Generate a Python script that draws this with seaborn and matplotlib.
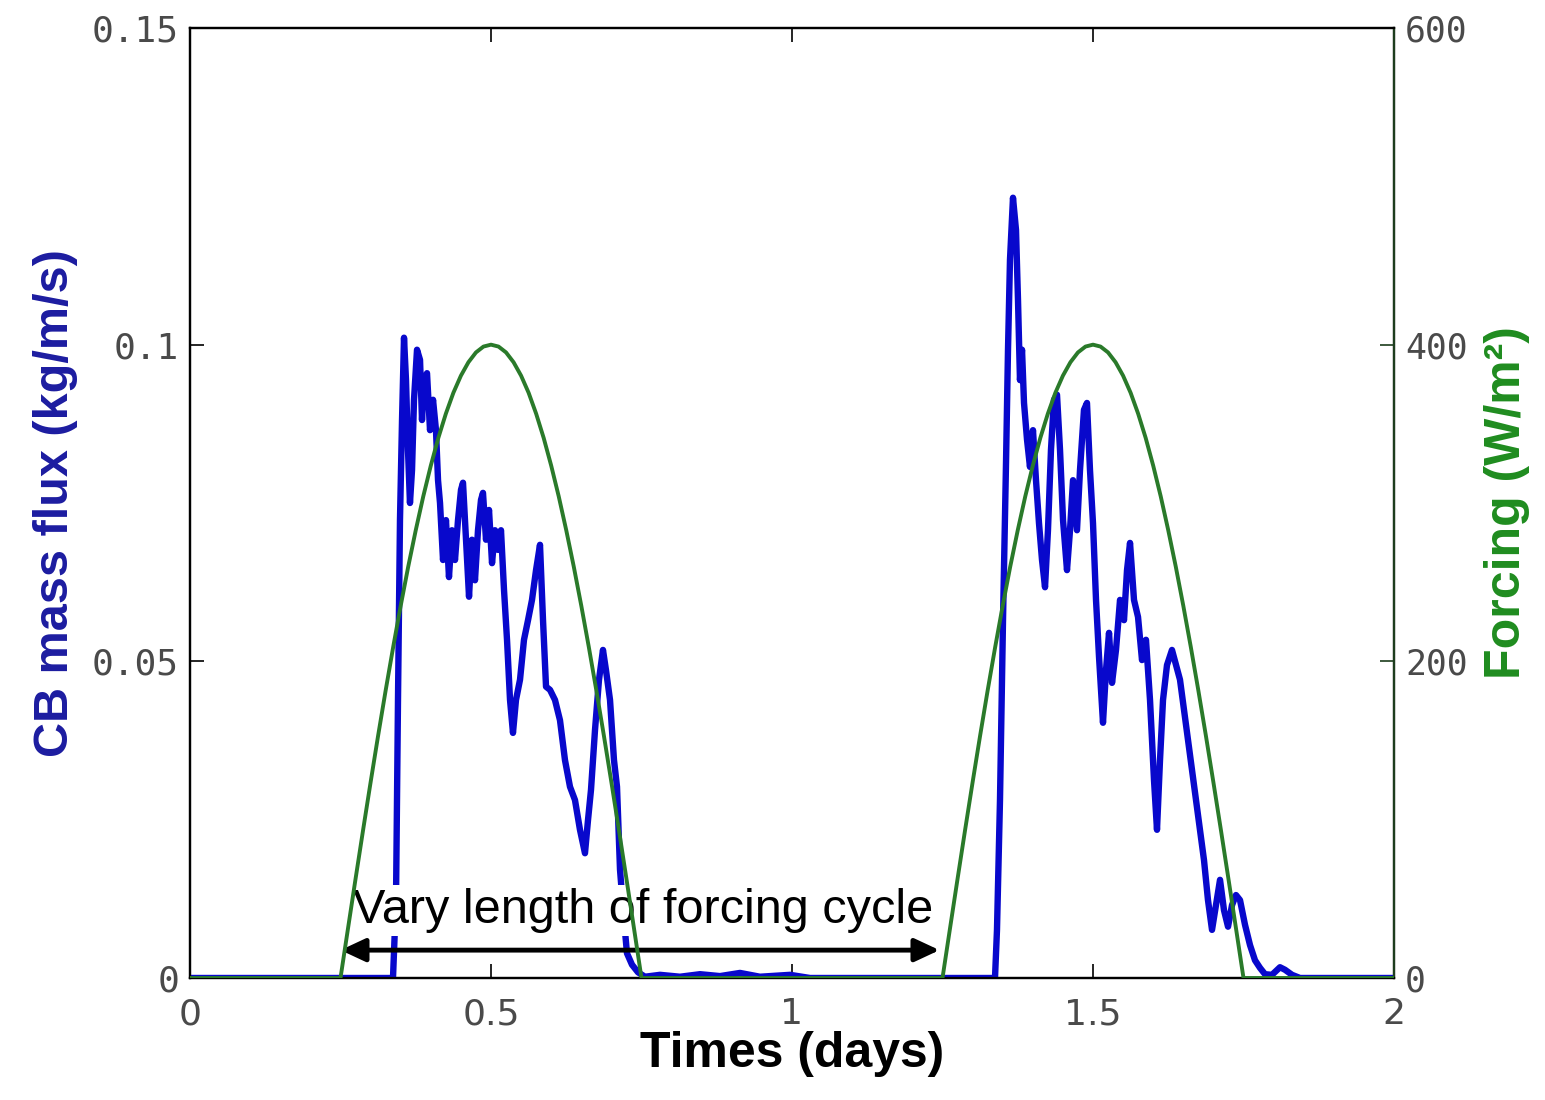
import matplotlib
matplotlib.use("Agg")
import matplotlib.pyplot as plt
import seaborn as sns
import pandas as pd
from matplotlib import font_manager

# ---------------- data ----------------
flux_time = [0.0, 0.3372, 0.3422, 0.3455, 0.3488, 0.3522, 0.3555, 0.3588, 0.3621, 0.3654,
             0.3688, 0.3721, 0.3771, 0.3821, 0.3854, 0.3887, 0.3937, 0.3987, 0.4037, 0.4086,
             0.4120, 0.4153, 0.4203, 0.4252, 0.4302, 0.4352, 0.4402, 0.4452, 0.4502, 0.4535,
             0.4585, 0.4635, 0.4684, 0.4734, 0.4784, 0.4834, 0.4867, 0.4917, 0.4967, 0.5017,
             0.5066, 0.5116, 0.5166, 0.5216, 0.5266, 0.5316, 0.5365, 0.5415, 0.5482, 0.5548,
             0.5615, 0.5681, 0.5748, 0.5814, 0.5864, 0.5914, 0.5980, 0.6063, 0.6146, 0.6229,
             0.6312, 0.6395, 0.6478, 0.6561, 0.6611, 0.6661, 0.6728, 0.6794, 0.6860, 0.6910,
             0.6977, 0.7043, 0.7093, 0.7143, 0.7209, 0.7259, 0.7342, 0.7442, 0.7558,
             0.7807, 0.8140, 0.8472, 0.8804, 0.9136, 0.9468, 0.9967, 1.0299, 1.3372,
             1.3405, 1.3455, 1.3505, 1.3555, 1.3588, 1.3621, 1.3671, 1.3721, 1.3754, 1.3787,
             1.3821, 1.3854, 1.3904, 1.3953, 1.4003, 1.4053, 1.4103, 1.4153, 1.4203, 1.4252,
             1.4302, 1.4352, 1.4402, 1.4452, 1.4502, 1.4568, 1.4618, 1.4668, 1.4734, 1.4784,
             1.4850, 1.4900, 1.4950, 1.5000, 1.5050, 1.5100, 1.5166, 1.5216, 1.5266, 1.5316,
             1.5382, 1.5449, 1.5515, 1.5565, 1.5615, 1.5681, 1.5748, 1.5814, 1.5880, 1.5947,
             1.6013, 1.6063, 1.6113, 1.6163, 1.6229, 1.6312, 1.6379, 1.6445, 1.6512, 1.6578,
             1.6645, 1.6711, 1.6777, 1.6844, 1.6910, 1.6977, 1.7043, 1.7110, 1.7176, 1.7243,
             1.7309, 1.7375, 1.7442, 1.7525, 1.7608, 1.7691, 1.7774, 1.7857, 1.7973, 1.8106,
             1.8189, 1.8306, 1.8439, 2.0]
flux_value = [0.0, 0.0, 0.0123, 0.0439, 0.0723, 0.0881, 0.1011, 0.0944, 0.0834, 0.0750,
              0.0802, 0.0913, 0.0992, 0.0976, 0.0881, 0.0944, 0.0955, 0.0865, 0.0913, 0.0865,
              0.0786, 0.0750, 0.0660, 0.0723, 0.0633, 0.0707, 0.0660, 0.0723, 0.0771, 0.0782,
              0.0692, 0.0602, 0.0692, 0.0628, 0.0707, 0.0755, 0.0766, 0.0692, 0.0739, 0.0655,
              0.0707, 0.0676, 0.0707, 0.0613, 0.0534, 0.0439, 0.0387, 0.0439, 0.0471, 0.0534,
              0.0565, 0.0597, 0.0644, 0.0684, 0.0565, 0.0460, 0.0455, 0.0439, 0.0407, 0.0344,
              0.0302, 0.0281, 0.0234, 0.0197, 0.0249, 0.0297, 0.0392, 0.0471, 0.0518, 0.0486,
              0.0439, 0.0344, 0.0302, 0.0171, 0.0092, 0.0039, 0.0021, 0.0009, 0.0002,
              0.0005, 0.0002, 0.0006, 0.0003, 0.0008, 0.0002, 0.0005, 0.0, 0.0,
              0.0076, 0.0281, 0.0565, 0.0813, 0.0992, 0.1134, 0.1232, 0.1181, 0.1071, 0.0944,
              0.0992, 0.0908, 0.0850, 0.0807, 0.0865, 0.0786, 0.0718, 0.0660, 0.0617, 0.0707,
              0.0834, 0.0913, 0.0921, 0.0834, 0.0723, 0.0644, 0.0707, 0.0786, 0.0707, 0.0802,
              0.0897, 0.0908, 0.0802, 0.0718, 0.0597, 0.0507, 0.0403, 0.0486, 0.0545, 0.0466,
              0.0518, 0.0597, 0.0565, 0.0644, 0.0687, 0.0597, 0.0570, 0.0502, 0.0534, 0.0439,
              0.0313, 0.0234, 0.0344, 0.0439, 0.0494, 0.0518, 0.0494, 0.0471, 0.0423, 0.0376,
              0.0328, 0.0281, 0.0234, 0.0186, 0.0123, 0.0076, 0.0115, 0.0155, 0.0107, 0.0081,
              0.0115, 0.0131, 0.0123, 0.0084, 0.0052, 0.0028, 0.0016, 0.0006, 0.0005, 0.0017,
              0.0013, 0.0005, 0.0, 0.0]

forcing_time = [0.0,
                0.25, 0.2625, 0.275, 0.2875, 0.3, 0.3125, 0.325, 0.3375, 0.35, 0.3625,
                0.375, 0.3875, 0.4, 0.4125, 0.425, 0.4375, 0.45, 0.4625, 0.475, 0.4875,
                0.5, 0.5125, 0.525, 0.5375, 0.55, 0.5625, 0.575, 0.5875, 0.6, 0.6125,
                0.625, 0.6375, 0.65, 0.6625, 0.675, 0.6875, 0.7, 0.7125, 0.725, 0.7375, 0.75,
                1.25, 1.2625, 1.275, 1.2875, 1.3, 1.3125, 1.325, 1.3375, 1.35, 1.3625,
                1.375, 1.3875, 1.4, 1.4125, 1.425, 1.4375, 1.45, 1.4625, 1.475, 1.4875,
                1.5, 1.5125, 1.525, 1.5375, 1.55, 1.5625, 1.575, 1.5875, 1.6, 1.6125,
                1.625, 1.6375, 1.65, 1.6625, 1.675, 1.6875, 1.7, 1.7125, 1.725, 1.7375, 1.75,
                2.0]
forcing_value = [0.0,
                 0.0, 31.4, 62.6, 93.4, 123.6, 153.1, 181.6, 209.0, 235.1, 259.8,
                 282.8, 304.2, 323.6, 341.1, 356.4, 369.6, 380.4, 388.9, 395.1, 398.8,
                 400.0, 398.8, 395.1, 388.9, 380.4, 369.6, 356.4, 341.1, 323.6, 304.2,
                 282.8, 259.8, 235.1, 209.0, 181.6, 153.1, 123.6, 93.4, 62.6, 31.4, 0.0,
                 0.0, 31.4, 62.6, 93.4, 123.6, 153.1, 181.6, 209.0, 235.1, 259.8,
                 282.8, 304.2, 323.6, 341.1, 356.4, 369.6, 380.4, 388.9, 395.1, 398.8,
                 400.0, 398.8, 395.1, 388.9, 380.4, 369.6, 356.4, 341.1, 323.6, 304.2,
                 282.8, 259.8, 235.1, 209.0, 181.6, 153.1, 123.6, 93.4, 62.6, 31.4, 0.0,
                 0.0]

x_ticks = [0, 0.5, 1, 1.5, 2]
x_tick_labels = ["0", "0.5", "1", "1.5", "2"]
left_ticks = [0, 0.05, 0.1, 0.15]
left_tick_labels = ["0", "0.05", "0.1", "0.15"]
right_ticks = [0, 200, 400, 600]
right_tick_labels = ["0", "200", "400", "600"]

x_label = "Times (days)"
left_label = "CB mass flux (kg/m/s)"
right_label = "Forcing (W/m\u00b2)"
annotation_text = "Vary length of forcing cycle"
arrow_start = 0.25
arrow_end = 1.245

# ---------------- style ----------------
sns.set_style("white")
BLUE = "#0808cc"
GREEN = "#2a7a2a"
LABEL_GREEN = "#1f8c1f"
LABEL_BLUE = "#1c1ca0"
TICK_GREY = "#4a4a4a"

avail = {f.name for f in font_manager.fontManager.ttflist}
narrow = ["Liberation Sans Narrow", "Liberation Sans", "DejaVu Sans"]
narrow = [f for f in narrow if f in avail] or ["DejaVu Sans"]
plt.rcParams["font.family"] = ["DejaVu Sans"]

fig = plt.figure(figsize=(15.45, 11.0), dpi=100)
ax = fig.add_axes([190 / 1545, 1 - 978 / 1100, (1394 - 190) / 1545, (978 - 28) / 1100])

df_flux = pd.DataFrame({"t": flux_time, "flux": flux_value})
df_force = pd.DataFrame({"t": forcing_time, "forcing": forcing_value})

sns.lineplot(data=df_flux, x="t", y="flux", ax=ax, color=BLUE, lw=4.6,
             estimator=None, sort=False, legend=False, zorder=3)
ax.set_xlim(0, 2)
ax.set_ylim(0, 0.15)

ax2 = ax.twinx()
sns.lineplot(data=df_force, x="t", y="forcing", ax=ax2, color=GREEN, lw=2.8,
             estimator=None, sort=False, legend=False, zorder=3)
ax2.set_ylim(0, 600)
ax2.set_xlim(0, 2)

# ticks
ax.set_xticks(x_ticks)
ax.set_xticklabels(x_tick_labels, fontsize=26, color=TICK_GREY, family="DejaVu Sans")
ax.set_yticks(left_ticks)
ax.set_yticklabels(left_tick_labels, fontsize=26, color=TICK_GREY, family="DejaVu Sans Mono")
ax2.set_yticks(right_ticks)
ax2.set_yticklabels(right_tick_labels, fontsize=25, color=TICK_GREY, family="DejaVu Sans Mono")

ax.tick_params(axis="x", direction="in", length=10, width=1.2, top=True, bottom=True,
               pad=14, colors="black", labelcolor=TICK_GREY)
ax.tick_params(axis="y", direction="in", length=10, width=1.2, left=True, right=False,
               pad=8, colors="black", labelcolor=TICK_GREY)
ax2.tick_params(axis="y", direction="in", length=10, width=1.2, right=True,
                pad=8, colors="#1d3d1d", labelcolor=TICK_GREY)

for sp in ax.spines.values():
    sp.set_color("black")
    sp.set_linewidth(1.6)
for sp in ax2.spines.values():
    sp.set_linewidth(1.6)
    sp.set_color("black")
ax2.spines["right"].set_color("#1d3d1d")

# labels
ax.set_xlabel(x_label, fontsize=36, fontweight="bold", color="black",
              family=narrow, labelpad=0)
ax.set_ylabel(left_label, fontsize=35, fontweight="bold", color=LABEL_BLUE,
              family=narrow, labelpad=10)
ax2.set_ylabel(right_label, fontsize=36, fontweight="bold", color=LABEL_GREEN,
               family=narrow, rotation=90, labelpad=12)

# annotation
ax.text((arrow_start + arrow_end) / 2 + 0.006, 0.0107, annotation_text, fontsize=35,
        family=["Liberation Sans", "DejaVu Sans"], color="black", ha="center",
        va="center", zorder=10,
        bbox=dict(boxstyle="square,pad=0.06", facecolor="white", edgecolor="none"))
ax.annotate("", xy=(arrow_start, 0.0044), xytext=(arrow_end, 0.0044),
            arrowprops=dict(arrowstyle="<|-|>,head_length=1.5,head_width=0.7",
                            color="black", lw=3.5, shrinkA=0, shrinkB=0),
            zorder=11)

fig.savefig("out.png", dpi=100, facecolor="white")
